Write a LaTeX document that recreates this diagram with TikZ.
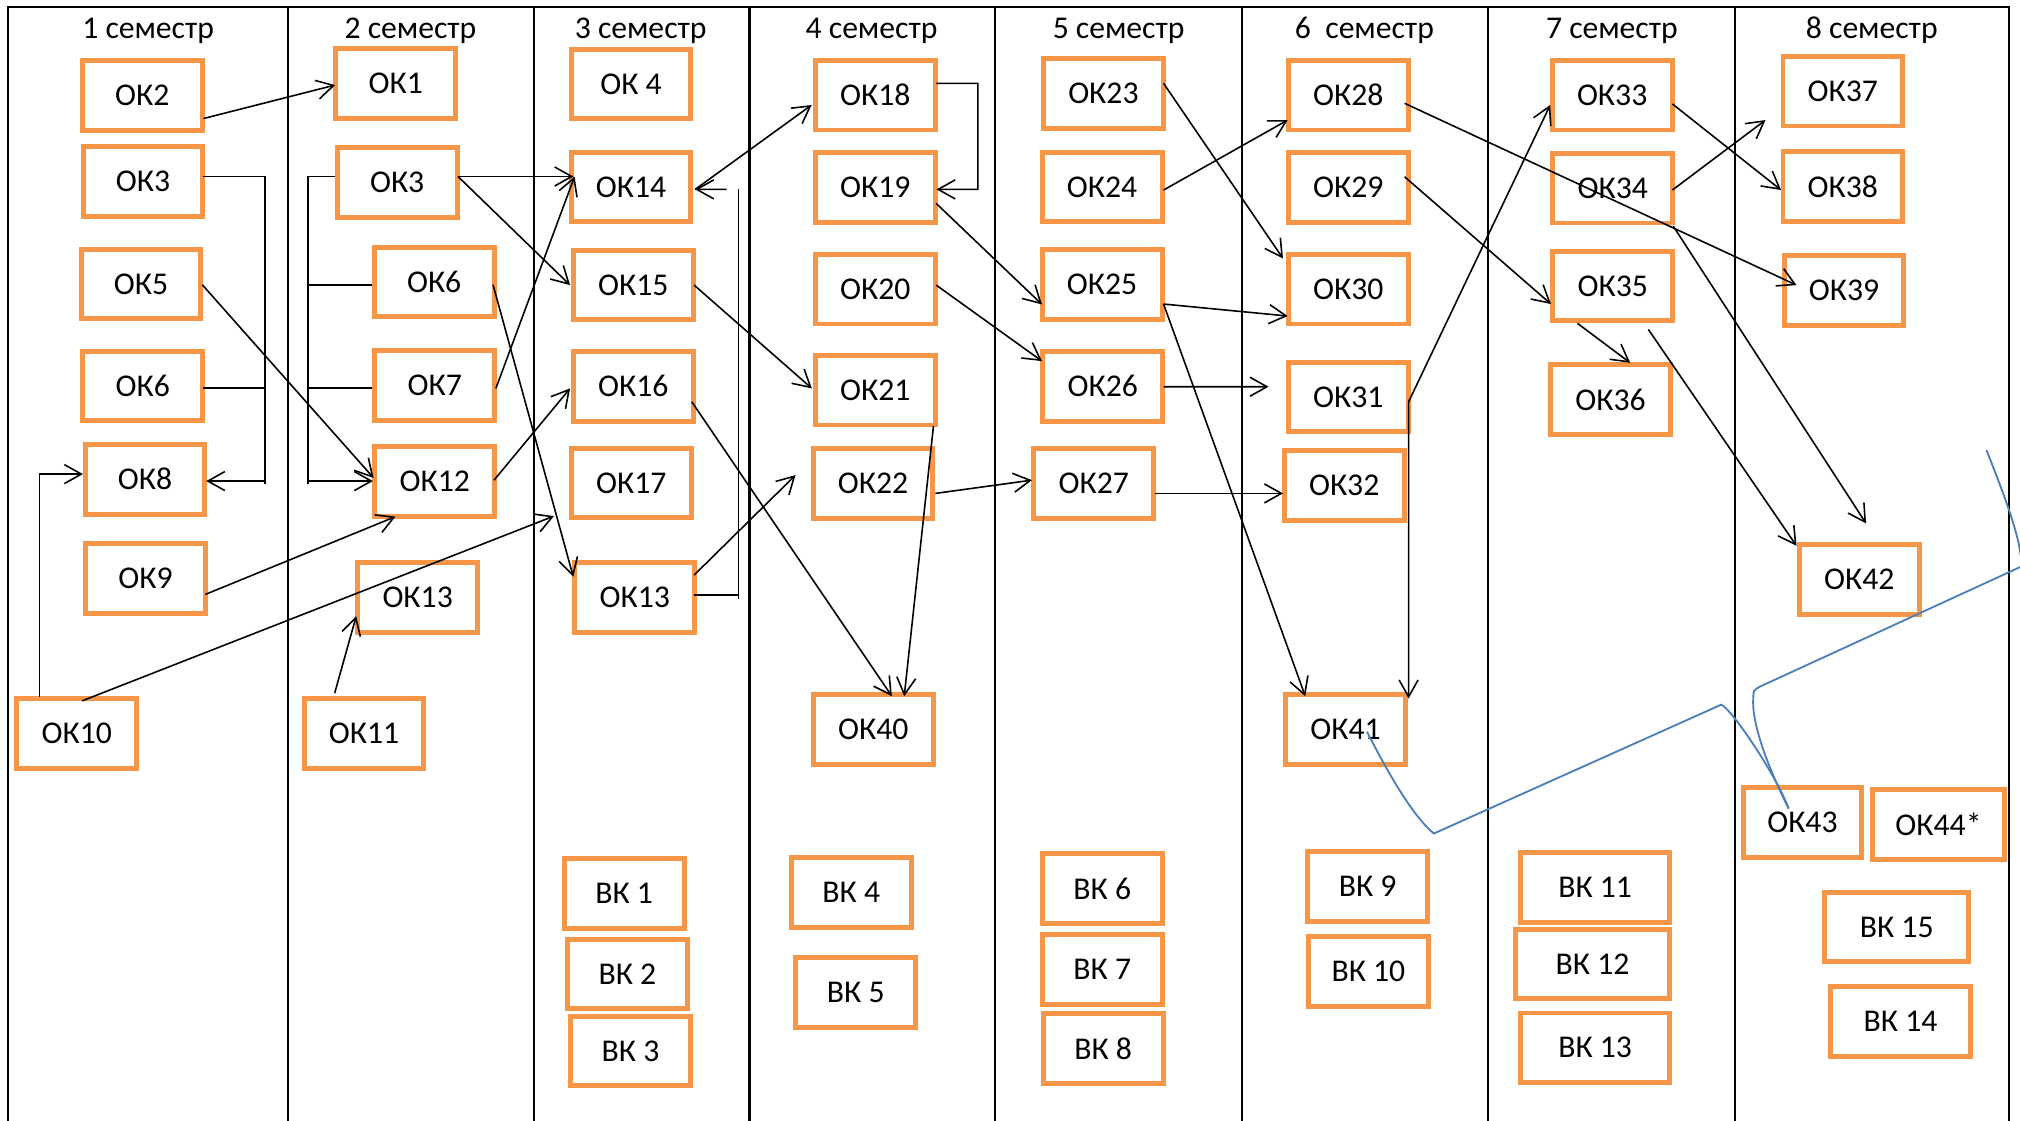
\documentclass[tikz,border=0pt]{standalone}
\usepackage{fontspec}
\setmainfont{Carlito}
\usetikzlibrary{arrows.meta,calc}
\definecolor{okorange}{RGB}{247,150,70}
\definecolor{penblue}{RGB}{74,126,187}
\begin{document}
\begin{tikzpicture}[x=0.02cm,y=-0.02cm,
  box/.style={draw=okorange, line width=2.2pt, minimum width=1.86cm, minimum height=1.08cm, inner sep=0pt, font=\fontsize{14}{17}\selectfont, text=black},
  head/.style={font=\fontsize{14}{17}\selectfont, inner sep=0pt, anchor=base},
  frame/.style={line width=1pt, black},
  conn/.style={line width=0.7pt, black},
  arr/.style={conn, -{Straight Barb[length=7.5pt,width=8.4pt]}},
  blueline/.style={line width=0.8pt, penblue}]
\useasboundingbox (0,0) rectangle (1568,869.4);
\fill[white] (0,0) rectangle (1568,869.4);
% frame
\draw[frame] (6.1,872) -- (6.1,5.3) -- (1559.5,5.3) -- (1559.5,872);
\foreach \xx in {223.5,414.6,581.8,772.5,964,1155,1347} \draw[frame] (\xx,5.3) -- (\xx,872);
% headings
\node[head] (s1) at (115,29.8) {1 семестр};
\node[head] (s2) at (318.6,29.8) {2 семестр};
\node[head] (s3) at (497.3,29.8) {3 семестр};
\node[head] (s4) at (676.5,29.8) {4 семестр};
\node[head] (s5) at (868.3,29.8) {5 семестр};
\node[head] (s6) at (1059.1,29.8) {6~~семестр};
\node[head] (s7) at (1251.2,29.8) {7 семестр};
\node[head] (s8) at (1452.9,29.8) {8 семестр};
% column 1
\node[box] (ok2) at (110.5,74) {ОК2};
\node[box] (ok3a) at (111,141) {ОК3};
\node[box] (ok5) at (109.5,220.4) {ОК5};
\node[box] (ok6a) at (110.8,299.6) {ОК6};
\node[box] (ok8) at (112.6,372) {ОК8};
\node[box] (ok9) at (113,449) {ОК9};
\node[box] (ok10) at (59.6,569.5) {ОК10};
% column 2
\node[box] (ok1) at (307.2,64.7) {ОК1};
\node[box] (ok3b) at (308.3,141.5) {ОК3};
\node[box] (ok6b) at (337,219) {ОК6};
\node[box] (ok7) at (337.5,299.4) {ОК7};
\node[box] (ok12) at (337.5,373.9) {ОК12};
\node[box] (ok13a) at (324.2,463.9) {ОК13};
\node[box] (ok11) at (282.6,569.5) {ОК11};
% column 3
\node[box] (ok4) at (489.8,65.1) {ОК 4};
\node[box] (ok14) at (489.8,145.3) {ОК14};
\node[box] (ok15) at (491.6,221.1) {ОК15};
\node[box] (ok16) at (491.6,299.8) {ОК16};
\node[box] (ok17) at (490,375) {ОК17};
\node[box] (ok13b) at (492.8,463.9) {ОК13};
\node[box] (vk1) at (484.5,693.7) {ВК 1};
\node[box] (vk2) at (487,756.1) {ВК 2};
\node[box] (vk3) at (489.4,815.9) {ВК 3};
% column 4
\node[box] (ok18) at (679.4,73.9) {ОК18};
\node[box] (ok19) at (679.4,145.6) {ОК19};
\node[box] (ok20) at (679.4,224.5) {ОК20};
\node[box] (ok21) at (679.4,302.9) {ОК21};
\node[box] (ok22) at (677.7,375.4) {ОК22};
\node[box] (ok40) at (677.9,566.2) {ОК40};
\node[box] (vk4) at (660.8,692.8) {ВК 4};
\node[box] (vk5) at (664.3,770.4) {ВК 5};
% column 5
\node[box] (ok23) at (856.5,72.6) {ОК23};
\node[box] (ok24) at (855.5,145.1) {ОК24};
\node[box] (ok25) at (855.5,220.9) {ОК25};
\node[box] (ok26) at (856,299.8) {ОК26};
\node[box] (ok27) at (849,375.2) {ОК27};
\node[box] (vk6) at (855.6,689.7) {ВК 6};
\node[box] (vk7) at (855.6,752.7) {ВК 7};
\node[box] (vk8) at (856.3,814) {ВК 8};
% column 6
\node[box] (ok28) at (1046.6,73.9) {ОК28};
\node[box] (ok29) at (1046.6,145.6) {ОК29};
\node[box] (ok30) at (1046.6,224.5) {ОК30};
\node[box] (ok31) at (1046.6,308.3) {ОК31};
\node[box] (ok32) at (1043.4,376.7) {ОК32};
\node[box] (ok41) at (1044.4,566.2) {ОК41};
\node[box] (vk9) at (1061.6,688) {ВК 9};
\node[box] (vk10) at (1062.2,754.3) {ВК 10};
% column 7
\node[box] (ok33) at (1251.4,73.9) {ОК33};
\node[box] (ok34) at (1251.9,146.1) {ОК34};
\node[box] (ok35) at (1251.9,221.9) {ОК35};
\node[box] (ok36) at (1250.1,310.3) {ОК36};
\node[box, minimum width=2.31cm] (vk11) at (1238.2,688.7) {ВК 11};
\node[box, minimum width=2.39cm] (vk12) at (1236.2,748.2) {ВК 12};
\node[box, minimum width=2.31cm] (vk13) at (1238.2,813.3) {ВК 13};
% column 8
\node[box] (ok37) at (1430.5,70.8) {ОК37};
\node[box] (ok38) at (1430.5,144.8) {ОК38};
\node[box] (ok39) at (1431.4,225.3) {ОК39};
\node[box] (ok42) at (1443.2,449.7) {ОК42};
\node[box, minimum width=1.84cm] (ok43) at (1399.1,638.6) {ОК43};
\node[box, minimum width=2.06cm] (ok44) at (1504.7,639.9) {ОК44*};
\node[box, minimum width=2.23cm] (vk15) at (1472.3,719.5) {ВК 15};
\node[box, minimum width=2.17cm] (vk14) at (1475.3,793.1) {ВК 14};
% bus coordinates and free ends
\coordinate (bus1a) at (205.5,137);
\coordinate (bus1b) at (205.5,376);
\coordinate (bus2a) at (239,137);
\coordinate (bus2b) at (239,376);
\coordinate (bus3a) at (573.2,147);
\coordinate (bus3b) at (573.2,465);
\coordinate (e14) at (564,147);
\coordinate (k4) at (759,147);
\coordinate (e7) at (430,400.6);
% connectors column 1
\draw[arr] ($(ok2)+(47.5,18)$) -- ($(ok1)+(-47,1.3)$);
\draw[conn] ($(ok3a)+(46.5,-4)$) -- (bus1a) -- (bus1b);
\draw[conn] ($(ok6a)+(46.5,1.4)$) -- ($(bus1a |- ok6a)+(0,1.4)$);
\draw[arr] ($(bus1a |- ok8)+(0,1.4)$) -- ($(ok8)+(47.5,1.4)$);
\draw[arr] ($(ok10)+(-29.1,-28.5)$) |- ($(ok8)+(-48.2,-4)$);
\draw[arr] ($(ok5)+(47.5,0.6)$) -- ($(ok12)+(-47.5,-2.9)$);
\draw[arr] ($(ok9)+(46.4,12.4)$) -- ($(ok12)+(-30.5,27.1)$);
\draw[arr] ($(ok10)+(4.2,-25.5)$) -- (e7);
% connectors column 2
\draw[conn] ($(ok3b)+(-48.5,-4.5)$) -- (bus2a) -- (bus2b);
\draw[conn] ($(ok6b)+(-48.3,2)$) -- ($(bus2a |- ok6b)+(0,2)$);
\draw[conn] ($(ok7)+(-48.5,1.6)$) -- ($(bus2a |- ok7)+(0,1.6)$);
\draw[arr] ($(bus2a |- ok12)+(0,-0.5)$) -- ($(ok12)+(-48,-0.5)$);
\draw[arr] ($(ok11)+(-22.8,-31.5)$) -- ($(ok13a)+(-47.7,14.4)$);
\draw[arr] ($(ok3b)+(47.2,-4.5)$) -- ($(ok14)+(-44.8,-8.3)$);
\draw[arr] ($(ok3b)+(47.2,-4.5)$) -- ($(ok15)+(-49.1,0.2)$);
\draw[arr] ($(ok7)+(47.4,2.1)$) -- ($(ok14)+(-43.8,-8.3)$);
\draw[arr] ($(ok6b)+(45.7,2)$) -- ($(ok13b)+(-47.8,-16.2)$);
\draw[arr] ($(ok12)+(46,-1.2)$) -- ($(ok16)+(-49.1,1.7)$);
% connectors column 3
\draw[conn] ($(ok13b)+(46,-1.9)$) -- ($(bus3a |- ok13b)+(0,-1.9)$);
\draw[conn] (bus3a) -- (bus3b);
\draw[arr] (e14) -- ($(ok14)+(49.8,1.7)$);
\draw[arr] ($(ok14)+(49.8,1.7)$) -- ($(ok18)+(-49.4,7.6)$);
\draw[arr] ($(ok15)+(47.2,0.2)$) -- ($(ok21)+(-49.2,-1.4)$);
\draw[arr] ($(ok16)+(45.4,12.1)$) -- ($(ok40)+(14.4,-25.8)$);
\draw[arr] ($(ok13b)+(46,-17.5)$) -- ($(ok22)+(-60.2,-6.6)$);
% connectors column 4
\draw[arr] ($(ok18)+(47.3,-9.2)$) -| (k4) -- ($(ok19)+(47.6,1.4)$);
\draw[arr] ($(ok19)+(47.3,12.3)$) -- ($(ok25)+(-46.7,15.4)$);
\draw[arr] ($(ok20)+(47.3,-3.2)$) -- ($(ok26)+(-47.2,-19.5)$);
\draw[arr] ($(ok21)+(45.2,27.6)$) -- ($(ok40)+(24,-25.8)$);
\draw[arr] ($(ok22)+(48.3,7.6)$) -- ($(ok27)+(-48,-2.5)$);
% connectors column 5
\draw[arr] ($(ok23)+(46.7,-7.9)$) -- ($(ok30)+(-50.7,-23.9)$);
\draw[arr] ($(ok24)+(47.7,2.4)$) -- ($(ok28)+(-47.1,19.3)$);
\draw[arr] ($(ok25)+(47.7,15.1)$) -- ($(ok30)+(-47.1,20.8)$);
\draw[arr] ($(ok25)+(47.7,15.1)$) -- ($(ok41)+(-31.2,-25.8)$);
\draw[arr] ($(ok26)+(47.2,0.4)$) -- ($(ok31)+(-61.9,-8.1)$);
\draw[arr] ($(ok27)+(47.2,7.8)$) -- ($(ok32)+(-47.5,6.3)$);
% connectors column 6
\draw[arr] ($(ok31)+(46.8,3.6)$) -- ($(ok33)+(-48.1,7.6)$);
\draw[arr] ($(ok31)+(46.8,3.6)$) -- ($(ok41)+(49,-24)$);
\draw[arr] ($(ok28)+(43.7,6.3)$) -- ($(ok39)+(-36.9,-4)$);
\draw[arr] ($(ok29)+(43.7,-8.4)$) -- ($(ok35)+(-48,14.1)$);
% connectors column 7
\draw[arr] ($(ok33)+(46.8,6.8)$) -- ($(ok38)+(-48,2.7)$);
\draw[arr] ($(ok34)+(46.3,1.4)$) -- ($(ok37)+(-60.1,22.4)$);
\draw[arr] ($(ok34)+(46.9,29.4)$) -- ($(ok42)+(5.3,-43.4)$);
\draw[arr] ($(ok35)+(-27.4,29.1)$) -- ($(ok36)+(15.3,-28.7)$);
\draw[arr] ($(ok35)+(27.6,33.8)$) -- ($(ok42)+(-48.7,-26)$);
% blue freehand strokes
\draw[blueline] ($(ok41)+(16.7,1.8)$) .. controls (1075,595) and (1095,632) .. (1113,647) -- (1336,547) .. controls (1343,549) and (1378,600) .. ($(ok43)+(-10.7,-11)$);
\draw[blueline] ($(ok43)+(-10.7,-11)$) .. controls (1372,595) and (1359,560) .. (1361,541) .. controls (1361,536) .. (1366,533) -- (1575,437);
\draw[blueline] (1542,349.4) .. controls (1552,375) and (1562,400) .. (1567,422) -- (1570,440);
\end{tikzpicture}
\end{document}
